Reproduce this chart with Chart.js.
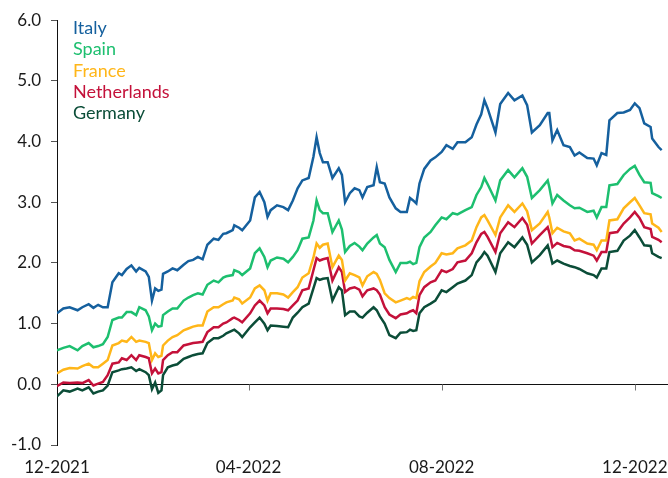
<!DOCTYPE html>
<html>
<head>
<meta charset="utf-8">
<script src="https://cdn.jsdelivr.net/npm/chart.js@4/dist/chart.umd.min.js"></script>
<style>
  html, body { margin: 0; padding: 0; background: #fff; }
  #wrap { width: 668px; height: 478px; }
</style>
</head>
<body>
<div id="wrap"><canvas id="spreadChart" width="668" height="478"></canvas></div>
<script>
// days since 2021-12-01
const days = [
  0, 4, 8, 13, 16, 20, 23, 26, 29, 32,
  35, 39, 41, 44, 47, 50, 52, 56, 58, 60,
  62, 64, 66, 67, 70, 73, 76, 80, 83, 86,
  89, 92, 95, 99, 102, 105, 107, 111, 112, 115,
  117, 122, 125, 128, 131, 133, 135, 139, 143, 146,
  149, 152, 155, 159, 162, 164, 166, 168, 171, 174,
  178, 180, 182, 185, 188, 191, 193, 196, 200, 202,
  204, 207, 210, 214, 217, 221, 223, 225, 227, 229,
  232, 236, 239, 243, 246, 250, 253, 258, 262, 265,
  268, 270, 272, 277, 280, 285, 289, 294, 297, 300,
  305, 310, 311, 313, 316, 320, 324, 327, 330, 335,
  339, 341, 344, 347, 349, 354, 358, 362, 365, 368,
  371, 375, 376, 380, 382
];

const italy = [
  1.17, 1.25, 1.27, 1.22, 1.27, 1.32, 1.26, 1.31, 1.27, 1.27,
  1.68, 1.83, 1.80, 1.90, 1.96, 1.86, 1.92, 1.86, 1.77, 1.38,
  1.58, 1.54, 1.56, 1.82, 1.86, 1.91, 1.88, 1.97, 2.03, 2.05,
  2.10, 2.06, 2.30, 2.40, 2.38, 2.48, 2.49, 2.54, 2.62, 2.58,
  2.54, 2.70, 3.08, 3.17, 3.00, 2.76, 2.87, 2.95, 2.92, 2.87,
  3.03, 3.23, 3.36, 3.40, 3.75, 4.07, 3.81, 3.66, 3.66, 3.40,
  3.56, 3.45, 3.00, 3.15, 3.23, 3.20, 3.08, 3.25, 3.28, 3.58,
  3.33, 3.31, 3.08, 2.90, 2.84, 2.84, 3.07, 3.03, 2.98, 3.31,
  3.55, 3.69, 3.74, 3.83, 3.94, 3.88, 3.99, 3.99, 4.07, 4.28,
  4.45, 4.68, 4.55, 4.15, 4.62, 4.80, 4.68, 4.76, 4.60, 4.15,
  4.27, 4.47, 4.47, 4.02, 4.19, 3.94, 3.91, 3.77, 3.82, 3.73,
  3.72, 3.61, 3.81, 3.78, 4.35, 4.47, 4.48, 4.52, 4.63, 4.55,
  4.30, 4.24, 4.05, 3.91, 3.86
];

const spain = [
  0.56, 0.60, 0.63, 0.56, 0.63, 0.68, 0.61, 0.63, 0.66, 0.78,
  1.06, 1.10, 1.10, 1.19, 1.19, 1.14, 1.27, 1.22, 1.12, 0.89,
  1.00, 0.95, 0.96, 1.14, 1.20, 1.25, 1.25, 1.38, 1.43, 1.47,
  1.50, 1.48, 1.64, 1.71, 1.68, 1.76, 1.78, 1.80, 1.88, 1.85,
  1.80, 1.91, 2.16, 2.24, 2.10, 1.93, 2.04, 2.09, 2.07, 2.01,
  2.10, 2.21, 2.40, 2.42, 2.70, 3.03, 2.87, 2.82, 2.82, 2.51,
  2.70, 2.55, 2.18, 2.28, 2.33, 2.27, 2.21, 2.32, 2.42, 2.46,
  2.32, 2.26, 2.05, 1.85, 2.00, 2.00, 2.02, 1.98, 2.00, 2.26,
  2.42, 2.51, 2.62, 2.75, 2.72, 2.82, 2.80, 2.87, 2.92, 3.12,
  3.25, 3.40, 3.30, 3.03, 3.36, 3.53, 3.41, 3.56, 3.42, 3.07,
  3.20, 3.36, 3.25, 2.98, 3.12, 3.03, 2.95, 2.90, 2.91, 2.84,
  2.86, 2.75, 2.92, 2.92, 3.28, 3.30, 3.45, 3.55, 3.60, 3.45,
  3.33, 3.32, 3.15, 3.10, 3.07
];

const france = [
  0.18, 0.24, 0.27, 0.26, 0.30, 0.34, 0.28, 0.28, 0.34, 0.40,
  0.64, 0.68, 0.72, 0.70, 0.78, 0.70, 0.72, 0.70, 0.68, 0.40,
  0.51, 0.45, 0.47, 0.64, 0.72, 0.78, 0.81, 0.89, 0.92, 0.95,
  0.97, 0.97, 1.20, 1.27, 1.27, 1.32, 1.35, 1.38, 1.43, 1.40,
  1.33, 1.43, 1.58, 1.63, 1.55, 1.38, 1.50, 1.50, 1.48, 1.43,
  1.52, 1.60, 1.76, 1.83, 2.09, 2.32, 2.25, 2.30, 2.32, 1.93,
  2.12, 2.05, 1.71, 1.83, 1.80, 1.76, 1.63, 1.78, 1.85, 1.82,
  1.72, 1.50, 1.42, 1.35, 1.38, 1.42, 1.40, 1.44, 1.42, 1.70,
  1.85, 1.94, 2.00, 2.16, 2.14, 2.16, 2.24, 2.29, 2.37, 2.59,
  2.75, 2.79, 2.70, 2.46, 2.75, 2.95, 2.84, 2.98, 2.85, 2.54,
  2.65, 2.84, 2.75, 2.49, 2.58, 2.52, 2.49, 2.37, 2.40, 2.32,
  2.30, 2.21, 2.37, 2.37, 2.70, 2.72, 2.90, 3.00, 3.07, 2.95,
  2.82, 2.80, 2.65, 2.58, 2.51
];

const netherlands = [
  -0.03, 0.03, 0.02, 0.03, 0.02, 0.07, -0.02, 0.01, 0.04, 0.15,
  0.34, 0.36, 0.43, 0.40, 0.48, 0.40, 0.48, 0.45, 0.43, 0.18,
  0.26, 0.18, 0.20, 0.40, 0.48, 0.53, 0.53, 0.64, 0.66, 0.68,
  0.69, 0.70, 0.86, 0.94, 0.94, 1.00, 1.02, 1.09, 1.10, 1.06,
  1.02, 1.17, 1.30, 1.38, 1.30, 1.17, 1.25, 1.25, 1.24, 1.22,
  1.30, 1.38, 1.55, 1.58, 1.88, 2.08, 2.04, 2.06, 2.08, 1.71,
  1.93, 1.85, 1.52, 1.58, 1.60, 1.56, 1.45, 1.55, 1.58, 1.55,
  1.48, 1.27, 1.15, 1.09, 1.15, 1.17, 1.20, 1.22, 1.17, 1.47,
  1.60, 1.68, 1.71, 1.88, 1.85, 1.90, 2.01, 2.04, 2.16, 2.34,
  2.48, 2.51, 2.43, 2.18, 2.49, 2.67, 2.59, 2.74, 2.63, 2.32,
  2.46, 2.59, 2.50, 2.26, 2.33, 2.28, 2.26, 2.21, 2.20, 2.16,
  2.12, 2.04, 2.18, 2.18, 2.49, 2.51, 2.65, 2.75, 2.84, 2.74,
  2.59, 2.56, 2.43, 2.38, 2.34
];

const germany = [
  -0.20, -0.10, -0.12, -0.07, -0.10, -0.05, -0.15, -0.12, -0.10, -0.02,
  0.20, 0.23, 0.25, 0.26, 0.28, 0.22, 0.25, 0.20, 0.15, -0.08,
  0.03, -0.14, -0.10, 0.15, 0.28, 0.31, 0.33, 0.42, 0.45, 0.48,
  0.50, 0.51, 0.68, 0.76, 0.76, 0.80, 0.84, 0.89, 0.90, 0.84,
  0.78, 0.94, 1.02, 1.10, 1.00, 0.89, 0.97, 0.96, 0.95, 0.94,
  1.10, 1.18, 1.27, 1.33, 1.58, 1.75, 1.72, 1.74, 1.75, 1.38,
  1.60, 1.55, 1.14, 1.20, 1.20, 1.12, 1.10, 1.18, 1.27, 1.22,
  1.12, 1.00, 0.81, 0.76, 0.85, 0.86, 0.90, 0.88, 0.89, 1.17,
  1.27, 1.33, 1.38, 1.55, 1.52, 1.60, 1.66, 1.71, 1.80, 2.01,
  2.10, 2.18, 2.12, 1.85, 2.16, 2.34, 2.26, 2.42, 2.30, 2.01,
  2.13, 2.29, 2.20, 1.99, 2.04, 1.99, 1.95, 1.93, 1.90, 1.83,
  1.80, 1.76, 1.91, 1.91, 2.18, 2.20, 2.37, 2.45, 2.54, 2.42,
  2.29, 2.28, 2.16, 2.10, 2.08
];

const seriesNames = ['Italy', 'Spain', 'France', 'Netherlands', 'Germany'];
const seriesColors = ['#15609e', '#1dbf6f', '#ffb619', '#c4113a', '#0b4d38'];
const seriesValues = [italy, spain, france, netherlands, germany];

const tickDays = [0, 121, 243, 365];
const tickLabels = ['12-2021', '04-2022', '08-2022', '12-2022'];
const yTicks = [-1, 0, 1, 2, 3, 4, 5, 6];

const FONT = 'Lato, "Noto Sans", sans-serif';

// legend: coloured text only, top-left inside the plot
const textLegend = {
  id: 'textLegend',
  afterDatasetsDraw(chart) {
    const ctx = chart.ctx;
    const area = chart.chartArea;
    ctx.save();
    ctx.font = '18px ' + FONT;
    ctx.textBaseline = 'alphabetic';
    ctx.textAlign = 'left';
    seriesNames.forEach((name, i) => {
      ctx.fillStyle = seriesColors[i];
      ctx.fillText(name, area.left + 16, area.top + 14 + i * 21.25);
    });
    ctx.restore();
  }
};

// small date tick marks hanging under the zero line
const zeroTicks = {
  id: 'zeroTicks',
  beforeDatasetsDraw(chart) {
    const ctx = chart.ctx;
    const xs = chart.scales.x;
    const y0 = Math.round(chart.scales.y.getPixelForValue(0)) + 0.5;
    ctx.save();
    ctx.strokeStyle = '#777';
    ctx.lineWidth = 1;
    ctx.beginPath();
    tickDays.slice(1).forEach(d => {
      const px = Math.round(xs.getPixelForValue(d)) + 0.5;
      ctx.moveTo(px, y0);
      ctx.lineTo(px, y0 + 6);
    });
    ctx.stroke();
    ctx.restore();
  }
};

new Chart(document.getElementById('spreadChart'), {
  type: 'line',
  data: {
    datasets: seriesNames.map((name, i) => ({
      label: name,
      data: days.map((d, j) => ({ x: d, y: seriesValues[i][j] })),
      borderColor: seriesColors[i],
      backgroundColor: seriesColors[i],
      borderWidth: 2.5,
      pointRadius: 0,
      tension: 0,
      fill: false,
      order: i
    }))
  },
  options: {
    responsive: false,
    animation: false,
    layout: { padding: { top: 20, right: 0, bottom: 0, left: 0 } },
    plugins: {
      legend: { display: false },
      tooltip: { enabled: false }
    },
    scales: {
      x: {
        type: 'linear',
        min: 0,
        max: 386,
        position: 'bottom',
        afterBuildTicks: (scale) => { scale.ticks = tickDays.map(v => ({ value: v })); },
        afterFit: (scale) => {
          scale.height = 33;
          scale.paddingLeft = 0;
          scale.paddingRight = 0;
        },
        grid: { display: false, drawTicks: false },
        border: { display: false },
        ticks: {
          padding: 12,
          autoSkip: false,
          maxRotation: 0,
          color: '#1a1a1a',
          font: { family: FONT, size: 17 },
          callback: (v) => tickLabels[tickDays.indexOf(v)]
        }
      },
      y: {
        type: 'linear',
        min: -1,
        max: 6,
        afterBuildTicks: (scale) => { scale.ticks = yTicks.map(v => ({ value: v })); },
        afterFit: (scale) => { scale.width = 57; },
        ticks: {
          padding: 10,
          color: '#1a1a1a',
          font: { family: FONT, size: 17 },
          callback: (v) => v.toFixed(1)
        },
        grid: {
          drawOnChartArea: true,
          tickLength: 6,
          tickColor: '#555',
          color: (c) => (c.tick && c.tick.value === 0 ? '#111' : 'rgba(0,0,0,0)')
        },
        border: { color: '#111', width: 1 }
      }
    }
  },
  plugins: [zeroTicks, textLegend]
});
</script>
</body>
</html>
